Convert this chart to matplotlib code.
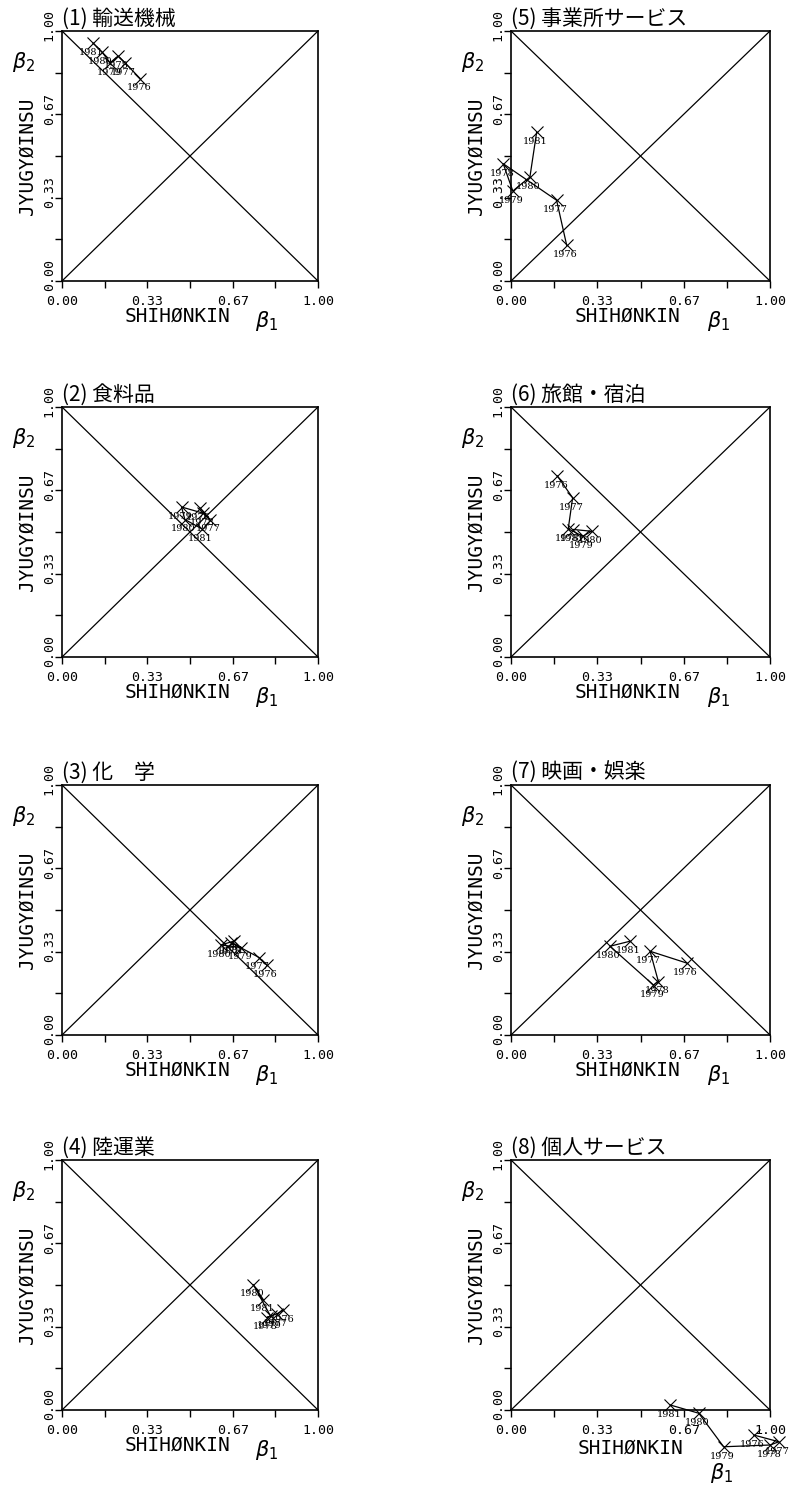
import matplotlib.pyplot as plt
import matplotlib.transforms as mtransforms
import numpy as np

plt.rcParams['font.family'] = ['Noto Sans CJK JP', 'DejaVu Sans']

years = [1976, 1977, 1978, 1979, 1980, 1981]

titles = ['(1) 輸送機械', '(2) 食料品', '(3) 化\u3000学', '(4) 陸運業',
          '(5) 事業所サービス', '(6) 旅館・宿泊', '(7) 映画・娯楽', '(8) 個人サービス']

# beta1 (SHIHONKIN), beta2 (JYUGYOINSU), 1976..1981
b1_yusou = [0.305, 0.246, 0.219, 0.188, 0.156, 0.121]
b2_yusou = [0.810, 0.873, 0.900, 0.873, 0.916, 0.952]
b1_shoku = [0.539, 0.578, 0.552, 0.467, 0.480, 0.546]
b2_shoku = [0.596, 0.550, 0.575, 0.600, 0.550, 0.513]
b1_kagaku = [0.800, 0.770, 0.660, 0.700, 0.620, 0.670]
b2_kagaku = [0.280, 0.310, 0.370, 0.350, 0.360, 0.375]
b1_rikuun = [0.865, 0.840, 0.800, 0.815, 0.747, 0.786]
b2_rikuun = [0.400, 0.385, 0.370, 0.375, 0.502, 0.442]
b1_jigyo = [0.215, 0.176, -0.030, 0.007, 0.073, 0.099]
b2_jigyo = [0.143, 0.323, 0.469, 0.360, 0.416, 0.595]
b1_ryokan = [0.179, 0.238, 0.221, 0.277, 0.311, 0.241]
b2_ryokan = [0.724, 0.637, 0.513, 0.483, 0.503, 0.510]
b1_eiga = [0.678, 0.537, 0.569, 0.550, 0.382, 0.459]
b2_eiga = [0.288, 0.335, 0.214, 0.200, 0.355, 0.375]
b1_kojin = [0.937, 1.034, 1.001, 0.821, 0.725, 0.615]
b2_kojin = [-0.100, -0.127, -0.140, -0.147, -0.013, 0.020]

panels = [(b1_yusou, b2_yusou), (b1_shoku, b2_shoku), (b1_kagaku, b2_kagaku),
          (b1_rikuun, b2_rikuun), (b1_jigyo, b2_jigyo), (b1_ryokan, b2_ryokan),
          (b1_eiga, b2_eiga), (b1_kojin, b2_kojin)]

tick_pos = [0, 1/6, 1/3, 1/2, 2/3, 5/6, 1]
tick_lab = ['0.00', '', '0.33', '', '0.67', '', '1.00']

W, H = 797, 1489
fig = plt.figure(figsize=(W / 100, H / 100), dpi=100)

col_left = [62, 511]
col_w = [256, 259]
row_bottom = [281, 657, 1035, 1410]
row_h = 250

mono = 'DejaVu Sans Mono'
# y tick labels sit a little above their ticks in the original
lift = mtransforms.ScaledTranslation(0, 4 / 72, fig.dpi_scale_trans)

for i, (b1, b2) in enumerate(panels):
    col, row = i // 4, i % 4
    ax = fig.add_axes([col_left[col] / W, (H - row_bottom[row]) / H,
                       col_w[col] / W, row_h / H])
    ax.set_xlim(0, 1)
    ax.set_ylim(0, 1)
    ax.plot([0, 1], [0, 1], color='black', lw=0.9)
    ax.plot([0, 1], [1, 0], color='black', lw=0.9)

    ax.plot(b1, b2, color='black', lw=0.9, clip_on=False)
    ax.plot(b1, b2, ls='none', marker='x', ms=8.5, mew=0.8, color='black', clip_on=False)
    for yr, x, y in zip(years, b1, b2):
        ax.annotate(str(yr), (x, y), xytext=(-1, -3.5), textcoords='offset points',
                    ha='center', va='top', fontsize=7, family='DejaVu Serif',
                    annotation_clip=False)

    ax.set_xticks(tick_pos)
    ax.set_yticks(tick_pos)
    ax.set_xticklabels(tick_lab, family=mono, fontsize=9.5)
    ax.set_yticklabels(tick_lab, family=mono, fontsize=9.5, rotation=90, va='center')
    ax.tick_params(direction='out', length=5, width=1)
    ax.tick_params(axis='x', pad=5)
    ax.tick_params(axis='y', pad=-0.5)
    for lab in ax.get_yticklabels():
        lab.set_transform(lab.get_transform() + lift)
    for s in ax.spines.values():
        s.set_linewidth(1.2)

    ax.text(0.0, 1.005, titles[i], transform=ax.transAxes, ha='left', va='bottom',
            fontsize=15)
    ax.text(-0.135, 0.5, 'JYUGYØINSU', transform=ax.transAxes, rotation=90,
            ha='center', va='center', family=mono, fontsize=14)
    ax.text(-0.15, 0.875, r'$\beta_2$', transform=ax.transAxes, ha='center',
            va='center', fontsize=15)
    if i == 7:
        ax.text(0.46, -0.153, 'SHIHØNKIN', transform=ax.transAxes, ha='center',
                va='center', family=mono, fontsize=14)
        ax.text(0.815, -0.253, r'$\beta_1$', transform=ax.transAxes, ha='center',
                va='center', fontsize=15)
    else:
        ax.text(0.45, -0.14, 'SHIHØNKIN', transform=ax.transAxes, ha='center',
                va='center', family=mono, fontsize=14)
        ax.text(0.80, -0.16, r'$\beta_1$', transform=ax.transAxes, ha='center',
                va='center', fontsize=15)

fig.savefig('out.png', dpi=100)
